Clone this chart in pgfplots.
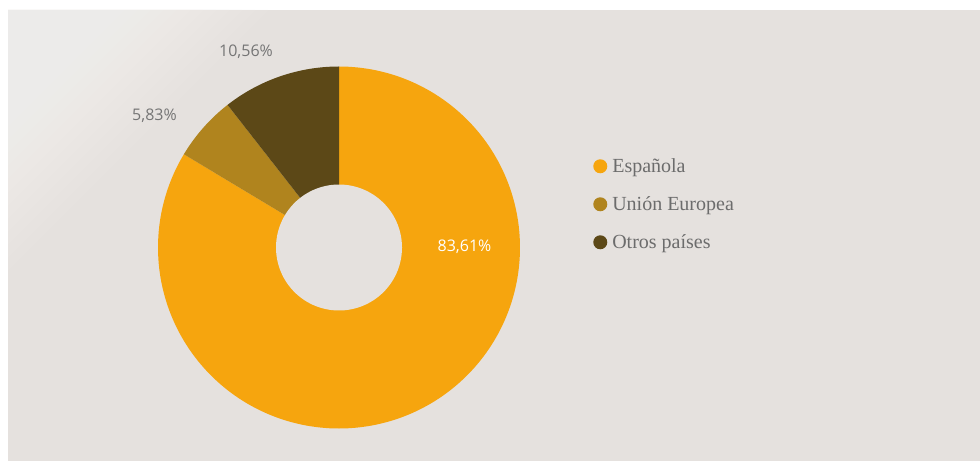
\documentclass[border=0pt]{standalone}
\usepackage{fontspec}
\setmainfont{Liberation Serif}
\newfontfamily\labelfont{Open Sans}
\usepackage{pgfplots}
\usepackage{pgfplotstable}
\pgfplotsset{compat=1.18}
\definecolor{bg}{RGB}{229,225,222}
\definecolor{bgl}{RGB}{250,249,248}
\definecolor{cEsp}{RGB}{246,165,14}
\definecolor{cUE}{RGB}{176,132,30}
\definecolor{cOtros}{RGB}{92,72,23}
\definecolor{legtext}{RGB}{108,108,108}
\definecolor{labtext}{RGB}{117,117,117}

\pgfplotstableread[col sep=comma]{
label,value
Espanola,83.61
UnionEuropea,5.83
Otros,10.56
}\datatable

\begin{document}%
\pgfplotstablegetelem{0}{value}\of\datatable\let\vEsp\pgfplotsretval%
\pgfplotstablegetelem{1}{value}\of\datatable\let\vUE\pgfplotsretval%
\pgfplotstablegetelem{2}{value}\of\datatable\let\vOtros\pgfplotsretval%
\pgfmathsetmacro\aA{90+3.6*\vOtros}%
\pgfmathsetmacro\aB{\aA+3.6*\vUE}%
\begin{tikzpicture}[x=0.75pt,y=0.75pt]
\fill[white] (0,0) rectangle (980,461);
\begin{scope}
\clip (8,0) rectangle (980,451);
\fill[bg] (8,0) rectangle (980,451);
\foreach \k in {13,26,...,260} {\fill[bgl, opacity=0.07] (8,451) -- (8+\k,451) -- (8,451-\k) -- cycle;}
\end{scope}
\begin{axis}[
  x=0.75pt, y=0.75pt,
  xmin=0, xmax=980, ymin=0, ymax=461,
  hide axis, at={(0,0)}, anchor=origin, clip=false,
  legend style={at={(0.6051,0.6616)}, anchor=north west, draw=none, fill=none,
    inner sep=0pt, font=\fontsize{15}{18}\selectfont, text=legtext,
    row sep=13.5pt, column sep=3.75pt,
    nodes={inner sep=0pt, text height=12pt, text depth=3pt},
    cells={anchor=west}},
  legend image code/.code={\fill[#1] (5.25pt,0pt) circle (5.25pt);},
]
\addplot[fill=cEsp, draw=none, domain=\aB:450, samples=200, variable=\t]
  ({339+181*cos(\t)},{213.5+181*sin(\t)}) -- (axis cs:339,213.5) -- cycle;
\addlegendentry{Española}
\addplot[fill=cUE, draw=none, domain=\aA:\aB, samples=40, variable=\t]
  ({339+181*cos(\t)},{213.5+181*sin(\t)}) -- (axis cs:339,213.5) -- cycle;
\addlegendentry{Unión Europea}
\addplot[fill=cOtros, draw=none, domain=90:\aA, samples=60, variable=\t]
  ({339+181*cos(\t)},{213.5+181*sin(\t)}) -- (axis cs:339,213.5) -- cycle;
\addlegendentry{Otros países}
\addplot[fill=bg, draw=none, domain=0:360, samples=120, variable=\t, forget plot]
  ({339+63*cos(\t)},{213.5+63*sin(\t)}) -- cycle;
\node[font=\labelfont\fontsize{12}{14}\selectfont, text=white] at (axis cs:464.5,214) {83,61\%};
\node[font=\labelfont\fontsize{12}{14}\selectfont, text=labtext] at (axis cs:154.5,345) {5,83\%};
\node[font=\labelfont\fontsize{12}{14}\selectfont, text=labtext] at (axis cs:246,409.5) {10,56\%};
\end{axis}
\pgfresetboundingbox
\path[use as bounding box] (0,0) rectangle (980,461);
\end{tikzpicture}%
\end{document}
